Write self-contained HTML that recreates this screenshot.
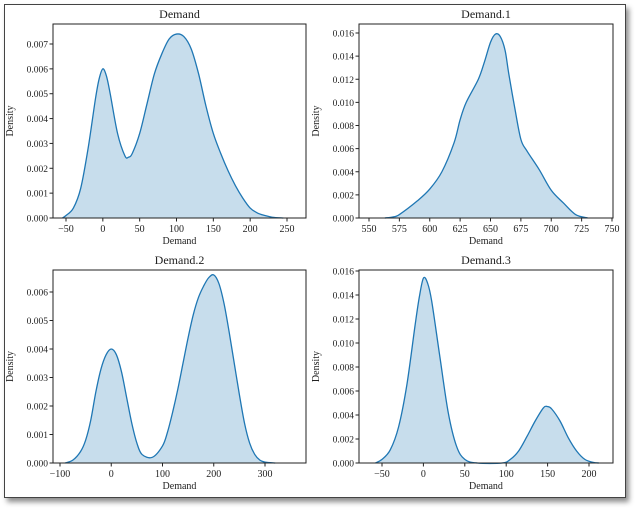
<!DOCTYPE html>
<html><head><meta charset="utf-8"><style>
body{margin:0;width:640px;height:509px;background:#fff;overflow:hidden;font-family:"Liberation Serif",serif}
#frame{position:absolute;left:4px;top:4px;width:620px;height:492px;border:1px solid #444;box-shadow:3px 4px 5px rgba(0,0,0,0.45);background:#fff}
svg{position:absolute;left:0;top:0}
text{font-family:"Liberation Serif",serif;fill:#222}
</style></head><body>
<div id="frame"></div>
<svg id="chart" width="640" height="509"></svg>
<script>
const titles=["Demand","Demand.1","Demand.2","Demand.3"];
const xs1=[-55,-50,-40,-30,-20,-10,-5,0,5,10,20,30,35,40,50,60,70,80,90,100,110,120,130,140,150,160,170,180,190,200,210,220,230,245];
const ys1=[0,0.0001,0.0004,0.0012,0.0028,0.0048,0.0056,0.0060,0.0057,0.0050,0.0034,0.0025,0.00245,0.0026,0.0034,0.0046,0.0058,0.0066,0.0072,0.0074,0.0073,0.0068,0.0058,0.0045,0.0034,0.0026,0.0019,0.0013,0.0008,0.0004,0.0002,0.0001,0.00003,0];
const xs2=[563,570,575,590,600,610,620,625,630,640,645,650,654,658,662,665,670,675,680,690,700,710,720,730];
const ys2=[0,0.0001,0.0003,0.0015,0.0025,0.004,0.0065,0.0085,0.010,0.012,0.0135,0.0152,0.0159,0.0157,0.0145,0.0125,0.0095,0.0068,0.0058,0.0042,0.0024,0.0013,0.0003,0];
const xs3=[-90,-75,-60,-50,-40,-30,-20,-10,0,10,20,30,40,50,60,80,100,110,120,130,140,150,160,170,180,190,200,210,220,230,240,250,260,270,280,290,300,320];
const ys3=[0,0.0001,0.0004,0.0008,0.0015,0.0025,0.0033,0.0038,0.0040,0.0038,0.0032,0.0023,0.0014,0.0007,0.0003,0.0002,0.0006,0.0011,0.0018,0.0026,0.0035,0.0044,0.0052,0.0058,0.0062,0.0065,0.0066,0.0063,0.0056,0.0046,0.0035,0.0024,0.0014,0.0007,0.0003,0.0001,0.00003,0];
const xs4=[-58,-50,-40,-30,-20,-10,-5,0,5,10,20,30,40,50,65,95,105,115,125,135,145,150,155,165,175,185,195,205,212];
const ys4=[0,0.0003,0.0011,0.003,0.0065,0.0115,0.0138,0.0154,0.0150,0.0135,0.0088,0.0042,0.0014,0.0003,0,0,0.0003,0.001,0.0022,0.0035,0.0046,0.0047,0.0045,0.0035,0.0021,0.0010,0.0003,0.00005,0];
const xt1=[-50,0,50,100,150,200,250], yt1=[0,0.001,0.002,0.003,0.004,0.005,0.006,0.007];
const xt2=[550,575,600,625,650,675,700,725,750], yt2=[0,0.002,0.004,0.006,0.008,0.010,0.012,0.014,0.016];
const xt3=[-100,0,100,200,300], yt3=[0,0.001,0.002,0.003,0.004,0.005,0.006];
const xt4=[-50,0,50,100,150,200], yt4=[0,0.002,0.004,0.006,0.008,0.010,0.012,0.014,0.016];
const NS="http://www.w3.org/2000/svg";
const svg=document.getElementById('chart');
function mk(t,a,p){const e=document.createElementNS(NS,t);for(const k in a)e.setAttribute(k,a[k]);(p||svg).appendChild(e);return e;}
const panels=[
 {L:53,R:306,T:24,B:218,x0:-50,px0:66,x1:250,px1:287,y1:0.007,py1:44,xs:xs1,ys:ys1,xt:xt1,yt:yt1,dec:3},
 {L:359,R:613,T:24,B:218,x0:550,px0:369,x1:750,px1:612,y1:0.016,py1:33,xs:xs2,ys:ys2,xt:xt2,yt:yt2,dec:3},
 {L:53,R:306,T:270,B:463,x0:-100,px0:60,x1:300,px1:265,y1:0.006,py1:292,xs:xs3,ys:ys3,xt:xt3,yt:yt3,dec:3},
 {L:359,R:613,T:270,B:463,x0:-50,px0:382,x1:200,px1:589,y1:0.016,py1:271,xs:xs4,ys:ys4,xt:xt4,yt:yt4,dec:3}
];
function smooth(pts){let d=`M${pts[0][0]},${pts[0][1]}`;for(let i=0;i<pts.length-1;i++){const p0=pts[Math.max(0,i-1)],p1=pts[i],p2=pts[i+1],p3=pts[Math.min(pts.length-1,i+2)];
 const c1=[p1[0]+(p2[0]-p0[0])/6,p1[1]+(p2[1]-p0[1])/6],c2=[p2[0]-(p3[0]-p1[0])/6,p2[1]-(p3[1]-p1[1])/6];
 d+=` C${c1[0].toFixed(2)},${c1[1].toFixed(2)} ${c2[0].toFixed(2)},${c2[1].toFixed(2)} ${p2[0].toFixed(2)},${p2[1].toFixed(2)}`;}return d;}
panels.forEach((p,i)=>{
 const g=mk('g',{});
 
 
 const X=v=>p.px0+(v-p.x0)*(p.px1-p.px0)/(p.x1-p.x0);
 const Y=v=>p.B-v*(p.B-p.py1)/p.y1;
 const pts=p.xs.map((x,k)=>[X(x),Y(p.ys[k])]);
 const d=smooth(pts);
 const area=mk('path',{d:d+` L${pts[pts.length-1][0]},${p.B} L${pts[0][0]},${p.B} Z`,fill:'rgba(31,119,180,0.25)',stroke:'none'},g);
 
 
 const line=mk('path',{d:d,fill:'none',stroke:'#1f77b4','stroke-width':1.3},g);
 
 
 const box=mk('rect',{x:p.L,y:p.T,width:p.R-p.L,height:p.B-p.T,fill:'none',stroke:'#222','stroke-width':1},g);
 
 
 p.xt.forEach(v=>{const x=X(v);mk('line',{x1:x,x2:x,y1:p.B,y2:p.B+3.5,stroke:'#222'},g);
  const t=mk('text',{x:x,y:p.B+14,'text-anchor':'middle','font-size':10},g);t.textContent=(v<0?'\u2212'+(-v):v);
  
  });
 p.yt.forEach(v=>{const y=Y(v);mk('line',{x1:p.L-3.5,x2:p.L,y1:y,y2:y,stroke:'#222'},g);
  const t=mk('text',{x:p.L-5,y:y+3.5,'text-anchor':'end','font-size':9.5},g);t.textContent=v.toFixed(p.dec);
  
  });
 const tt=mk('text',{x:(p.L+p.R)/2,y:p.T-6,'text-anchor':'middle','font-size':12},g);tt.textContent=titles[i];
 
 
 const xl=mk('text',{x:(p.L+p.R)/2,y:p.B+26,'text-anchor':'middle','font-size':10},g);xl.textContent='Demand';
 
 
 const yx=p.L-40,yy=(p.T+p.B)/2;
 const yl=mk('text',{x:yx,y:yy,'text-anchor':'middle','font-size':10,transform:`rotate(-90 ${yx} ${yy})`},g);yl.textContent='Density';
 
 
});
</script>
</body></html>
